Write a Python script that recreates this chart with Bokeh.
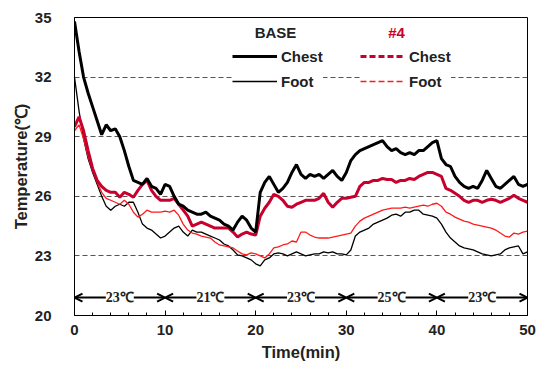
from bokeh.plotting import figure
from bokeh.models import (Legend, LegendItem, Label, LabelSet, Arrow, OpenHead,
                          ColumnDataSource, FixedTicker, Range1d)
from bokeh.embed import file_html
from bokeh.resources import INLINE

# ---------------- data ----------------
time_min = [i * 0.5 for i in range(101)]

base_chest = [34.8, 33.3, 32.0, 31.2, 30.5, 29.8, 29.1, 29.6, 29.3, 29.4,
              29.0, 28.3, 27.5, 26.8, 26.7, 26.6, 26.9, 26.5, 26.4, 26.1,
              26.6, 26.5, 26.0, 25.6, 25.5, 25.3, 25.2, 25.1, 25.1, 25.2,
              25.0, 24.9, 24.8, 24.6, 24.5, 24.3, 24.7, 25.0, 24.8, 24.4,
              24.2, 26.2, 26.7, 27.0, 26.6, 26.2, 26.4, 26.7, 27.2, 27.6,
              27.1, 26.9, 27.1, 27.0, 27.1, 26.9, 27.1, 27.3, 27.0, 26.8,
              27.2, 27.8, 28.1, 28.3, 28.4, 28.5, 28.6, 28.7, 28.8, 28.5,
              28.3, 28.4, 28.2, 28.1, 28.2, 28.1, 28.3, 28.3, 28.5, 28.7,
              28.8, 27.9, 27.6, 27.5, 27.0, 26.7, 26.5, 26.4, 26.5, 26.4,
              26.8, 27.3, 26.9, 26.5, 26.4, 26.6, 26.8, 27.0, 26.6, 26.5,
              26.6]

base_foot = [32.0, 30.3, 28.9, 27.9, 27.2, 26.6, 26.0, 25.5, 25.3, 25.5,
             25.6, 25.5, 25.7, 25.7, 25.2, 24.6, 24.4, 24.3, 24.1, 23.9,
             24.0, 24.2, 24.4, 24.5, 24.2, 24.0, 24.3, 24.2, 24.2, 24.1,
             24.0, 23.9, 23.8, 23.6, 23.5, 23.3, 23.05, 23.0, 22.9, 22.8,
             22.6, 22.5, 22.8, 22.9, 23.1, 23.15, 23.1, 23.0, 23.1, 23.2,
             23.1, 23.0, 23.05, 23.1, 23.1, 23.2, 23.15, 23.2, 23.1, 23.1,
             23.05, 23.3, 24.0, 24.2, 24.3, 24.4, 24.6, 24.7, 24.8, 24.9,
             25.05, 25.1, 25.0, 25.2, 25.2, 25.3, 25.3, 25.1, 25.05, 25.0,
             24.9, 24.6, 24.2, 23.9, 23.7, 23.5, 23.4, 23.35, 23.3, 23.2,
             23.1, 23.05, 23.0, 23.05, 23.1, 23.3, 23.4, 23.45, 23.5, 23.1,
             23.2]

no4_chest = [29.5, 30.0, 29.3, 28.3, 27.4, 26.8, 26.5, 26.3, 26.2, 26.2,
             25.95, 26.2, 26.1, 25.95, 26.3, 26.6, 26.8, 26.3, 26.0, 25.8,
             25.8, 25.8, 25.9, 25.6, 25.3, 25.0, 24.5, 24.6, 24.7, 24.6,
             24.5, 24.4, 24.4, 24.4, 24.4, 24.2, 23.95, 24.1, 24.2, 24.1,
             24.05, 25.0, 25.4, 25.7, 26.1, 26.0, 25.8, 25.5, 25.45, 25.6,
             25.7, 25.8, 25.8, 25.8, 25.9, 26.15, 25.7, 25.45, 25.7, 25.9,
             25.9, 25.95, 26.0, 26.5, 26.7, 26.7, 26.8, 26.8, 26.9, 26.85,
             26.85, 26.7, 26.8, 26.8, 26.9, 26.85, 27.0, 27.1, 27.2, 27.2,
             27.1, 27.0, 26.4, 26.3, 26.15, 26.0, 25.8, 25.7, 25.8, 25.8,
             25.7, 25.8, 25.85, 25.8, 25.7, 25.8, 25.9, 26.05, 25.9, 25.8,
             25.7]

no4_foot = [29.3, 29.6, 28.9, 28.0, 27.3, 26.7, 26.2, 25.9, 25.8, 25.7,
            25.6, 25.8, 25.6, 25.2, 24.95, 25.1, 25.3, 25.2, 25.2, 25.2,
            25.25, 25.2, 25.3, 25.05, 24.6, 24.3, 24.15, 24.1, 24.0, 23.95,
            23.9, 23.7, 23.55, 23.5, 23.45, 23.4, 23.25, 23.1, 23.05, 23.15,
            23.1, 23.0, 22.9, 23.1, 23.4, 23.45, 23.55, 23.6, 23.75, 23.7,
            24.2, 24.2, 24.05, 23.95, 23.9, 23.9, 23.9, 23.95, 24.0, 24.05,
            24.1, 24.15, 24.5, 24.75, 24.9, 25.0, 25.1, 25.2, 25.3, 25.35,
            25.4, 25.4, 25.4, 25.45, 25.4, 25.45, 25.5, 25.55, 25.5, 25.6,
            25.65, 25.5, 25.2, 25.1, 24.95, 24.85, 24.75, 24.7, 24.6, 24.55,
            24.5, 24.45, 24.4, 24.3, 24.15, 24.0, 23.95, 24.15, 24.1, 24.2,
            24.25]

phase_start = [0, 10, 20, 30, 40]
phase_end = [10, 20, 30, 40, 50]
phase_label = ["23℃", "21℃", "23℃", "25℃", "23℃"]
phase_level = 20.9

x_ticks = [0, 10, 20, 30, 40, 50]
y_ticks = [20, 23, 26, 29, 32, 35]
grid_levels = [23, 26, 29, 32]

FONT = "Liberation Sans"
CRIMSON = "#c8002d"
RED = "#ff1a1a"

# ---------------- figure ----------------
p = figure(width=540, height=370, output_backend="svg", toolbar_location=None,
           x_range=Range1d(0, 50), y_range=Range1d(20, 35),
           min_border_left=74, min_border_right=13, min_border_top=17,
           min_border_bottom=55)
p.outline_line_color = "black"
p.outline_line_width = 1
p.background_fill_color = "white"
p.border_fill_color = "white"

# axes
p.xaxis.ticker = FixedTicker(ticks=x_ticks,
                             minor_ticks=[i * 2 for i in range(26)])
p.yaxis.ticker = FixedTicker(ticks=y_ticks)
for ax in (p.xaxis[0], p.yaxis[0]):
    ax.axis_line_color = "black"
    ax.major_label_text_font = FONT
    ax.major_label_text_font_style = "bold"
    ax.major_label_text_font_size = "15px"
    ax.major_label_text_color = "#222222"
    ax.axis_label_text_font = FONT
    ax.axis_label_text_font_style = "bold"
    ax.axis_label_text_font_size = "16.5px"
    ax.axis_label_text_color = "#222222"

p.xaxis.axis_label = "Time(min)"
p.xaxis.major_tick_in = 5
p.xaxis.major_tick_out = 0
p.xaxis.minor_tick_in = 3
p.xaxis.minor_tick_out = 0
p.xaxis.major_tick_line_color = "black"
p.xaxis.minor_tick_line_color = "black"
p.xaxis.major_label_standoff = 9
p.xaxis.axis_label_standoff = 5

p.yaxis.axis_label = "Temperature(℃)"
p.yaxis.major_tick_line_color = None
p.yaxis.minor_tick_line_color = None
p.yaxis.major_label_standoff = 17
p.yaxis.axis_label_standoff = 2

# grid
p.xgrid.grid_line_color = None
p.ygrid.ticker = FixedTicker(ticks=grid_levels)
p.ygrid.grid_line_color = "#555555"
p.ygrid.grid_line_dash = "5 3"
p.ygrid.grid_line_width = 1

# data lines
src = ColumnDataSource(dict(t=time_min, bc=base_chest, bf=base_foot,
                            nc=no4_chest, nf=no4_foot))
p.line("t", "bf", source=src, line_color="black", line_width=1.3)
p.line("t", "nf", source=src, line_color=RED, line_width=1.3)
p.line("t", "nc", source=src, line_color=CRIMSON, line_width=3)
p.line("t", "bc", source=src, line_color="black", line_width=3)

# phase arrows
for s, e in zip(phase_start, phase_end):
    p.add_layout(Arrow(x_start=s, y_start=phase_level, x_end=e, y_end=phase_level,
                       line_color="black", line_width=2,
                       start=OpenHead(size=8, line_width=2, line_color="black"),
                       end=OpenHead(size=8, line_width=2, line_color="black")))
lab_src = ColumnDataSource(dict(x=[(s + e) / 2 for s, e in zip(phase_start, phase_end)],
                                y=[phase_level] * len(phase_label),
                                text=phase_label))
p.add_layout(LabelSet(x="x", y="y", text="text", source=lab_src,
                      text_align="center", text_baseline="middle",
                      text_font=FONT, text_font_style="bold",
                      text_font_size="14px", text_color="#222222",
                      background_fill_color="white"))

# legend sample renderers (not drawn in the plot area: no finite points)
nan = float("nan")
lg_bc = p.line([0], [nan], line_color="black", line_width=3)
lg_bf = p.line([0], [nan], line_color="black", line_width=1.3)
lg_nc = p.line([0], [nan], line_color=CRIMSON, line_width=3, line_dash="6 3")
lg_nf = p.line([0], [nan], line_color=RED, line_width=1.3, line_dash="6 3")

def make_legend(items, loc):
    return Legend(items=items, location=loc, orientation="vertical",
                  glyph_width=45, glyph_height=20, label_height=20,
                  label_standoff=4, spacing=5, padding=18, margin=0,
                  border_line_color=None, background_fill_color="white",
                  background_fill_alpha=1.0,
                  label_text_font=FONT, label_text_font_style="bold",
                  label_text_font_size="15px", label_text_color="#222222")

p.add_layout(make_legend([LegendItem(label="Chest", renderers=[lg_bc]),
                          LegendItem(label="Foot", renderers=[lg_bf])], (158, 224)))
p.add_layout(make_legend([LegendItem(label="Chest", renderers=[lg_nc]),
                          LegendItem(label="Foot", renderers=[lg_nf])], (286, 224)))

p.add_layout(Label(x=201, y=283, x_units="screen", y_units="screen", text="BASE",
                   text_align="center", text_baseline="middle",
                   text_font=FONT, text_font_style="bold", text_font_size="15px",
                   text_color="#222222"))
p.add_layout(Label(x=322, y=283, x_units="screen", y_units="screen", text="#4",
                   text_align="center", text_baseline="middle",
                   text_font=FONT, text_font_style="bold", text_font_size="15px",
                   text_color=CRIMSON))

open("out.html", "w").write(file_html(p, INLINE))
